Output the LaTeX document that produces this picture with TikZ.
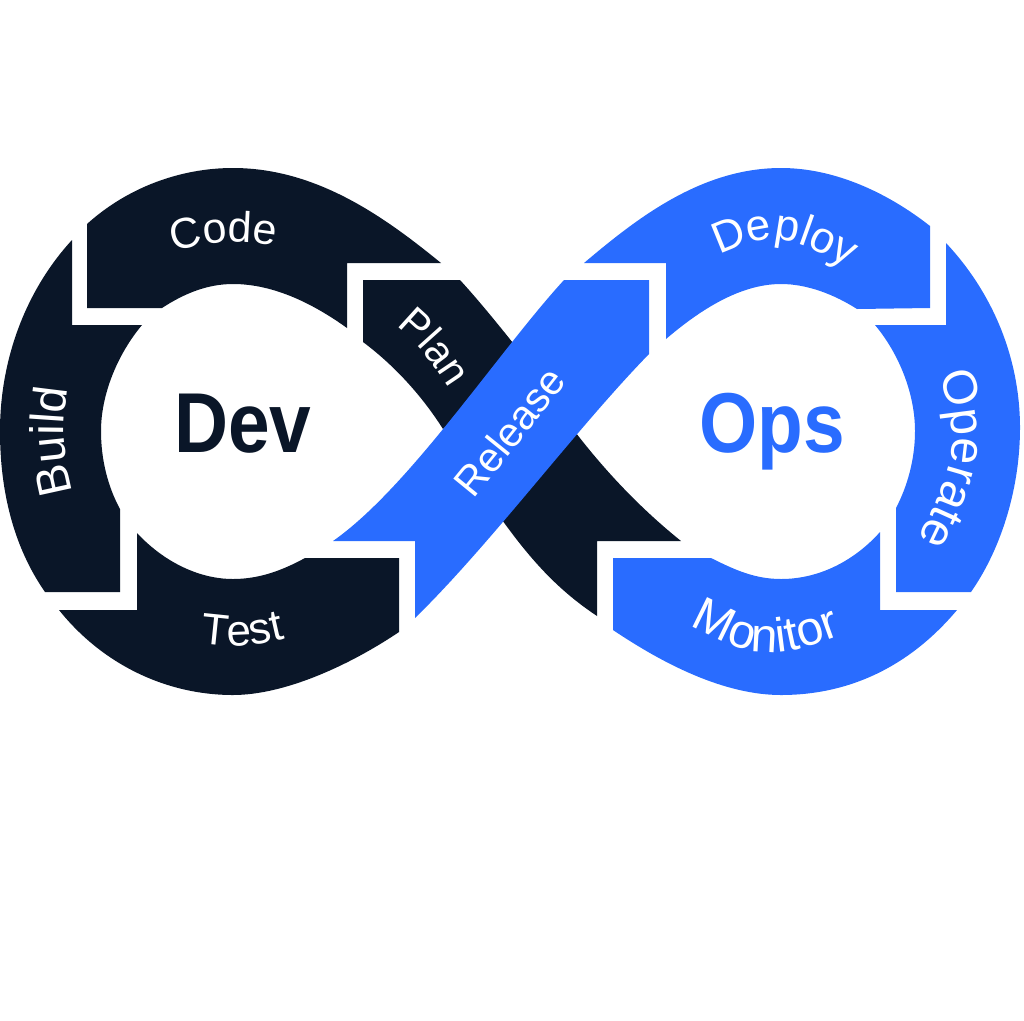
\documentclass[tikz,border=0pt]{standalone}
\usepackage{fontspec}
\usepackage{graphicx}
\setmainfont{Liberation Sans}
\usetikzlibrary{decorations.text}
\definecolor{navyc}{HTML}{0A1628}
\definecolor{bluec}{HTML}{296CFF}
\tikzset{
  curvelabel/.style 2 args={decoration={text along path,text color=white,
    text={|\fontsize{#2}{#2}\selectfont|#1},text align=center},decorate},
  bigword/.style={anchor=base,inner sep=0pt,font=\fontsize{85}{85}\selectfont\bfseries}
}
\begin{document}
\begin{tikzpicture}[x=1pt,y=-1pt]
\useasboundingbox (0,0) rectangle (1024,1020);
% Plan
\fill[navyc] (363,280) -- (460,280) .. controls (482,304) and (505,333) .. (525,358) -- (443,429)
  .. controls (422,396) and (395,366) .. (363,342) -- cycle;
% dark lower crossing
\fill[navyc] (500,440) -- (576,433) .. controls (610,477) and (645,512) .. (681,541) -- (597,541) -- (597,616)
  .. controls (558,590) and (530,560) .. (495,510) -- cycle;
% Release
\fill[bluec] (333,541) -- (415,541) -- (415,618)
  .. controls (490,545) and (575,430) .. (649,354)
  -- (649,280) -- (564,280)
  .. controls (498,352) and (410,487) .. (333,541) -- cycle;
% Code
\fill[navyc] (87,224) -- (87,308) -- (162,308)
  .. controls (185,293) and (208,284) .. (233,284)
  .. controls (275,284) and (315,305) .. (347,328)
  -- (347,263) -- (441,263)
  .. controls (387,219) and (318,168) .. (233,168)
  .. controls (181,168) and (128,187) .. (87,224) -- cycle;
% Build
\fill[navyc] (72,240) -- (72,325) -- (142,325)
  .. controls (117,355) and (101,395) .. (101,431)
  .. controls (101,460) and (108,487) .. (120,509)
  -- (120,592) -- (45,592)
  .. controls (13,546) and (0,490) .. (0,431)
  .. controls (0,359) and (26,290) .. (72,240) -- cycle;
% Test
\fill[navyc] (137,533)
  .. controls (162,560) and (197,579) .. (233,579)
  .. controls (260,579) and (283,570) .. (305,558)
  -- (399,558) -- (399,632)
  .. controls (350,665) and (285,695) .. (233,695)
  .. controls (167,695) and (103,665) .. (59,610)
  -- (137,610) -- cycle;
% Deploy
\fill[bluec] (584,263) -- (666,263) -- (666,339)
  .. controls (700,310) and (740,284) .. (781,284)
  .. controls (808,284) and (835,295) .. (857,309)
  -- (930,308) -- (930,226)
  .. controls (888,193) and (835,168) .. (781,168)
  .. controls (700,168) and (635,220) .. (584,263) -- cycle;
% Operate
\fill[bluec] (946,243) -- (946,325) -- (875,325)
  .. controls (900,355) and (915,395) .. (915,431)
  .. controls (915,460) and (907,487) .. (896,508)
  -- (896,592) -- (971,592)
  .. controls (1003,546) and (1020,485) .. (1020,428)
  .. controls (1020,357) and (992,292) .. (946,243) -- cycle;
% Monitor
\fill[bluec] (880,532)
  .. controls (855,560) and (820,579) .. (781,579)
  .. controls (755,579) and (735,570) .. (711,558)
  -- (613,558) -- (613,630)
  .. controls (665,665) and (725,695) .. (781,695)
  .. controls (850,695) and (910,666) .. (957,610)
  -- (880,610) -- cycle;
% Curved labels
\path[curvelabel={Code}{43}] (150,258) .. controls (225,238) .. (300,250);
\path[curvelabel={Build}{47}] (80,520) .. controls (60,440) .. (72,360);
\path[curvelabel={Test}{44}] (165,638) .. controls (240,650) .. (320,630);
\path[curvelabel={Plan}{41}] (368,304) .. controls (421,345) .. (468,418);
\path[curvelabel={Release}{41}] (440,540) .. controls (522,440) .. (600,340);
\path[curvelabel={Deploy}{44}] (683,273) .. controls (778,226) .. (883,288);
\path[curvelabel={Operate}{48}] (925,336) .. controls (965,446) .. (900,576);
\path[curvelabel={Monitor}{48}] (650,604) .. controls (762,666) .. (884,619);
% Big words
\node[bigword,text=navyc] (dev) at (243,452) {\scalebox{.88}[1]{Dev}};
\node[bigword,text=bluec] (ops) at (772,452) {\scalebox{.88}[1]{Ops}};
\end{tikzpicture}
\end{document}
